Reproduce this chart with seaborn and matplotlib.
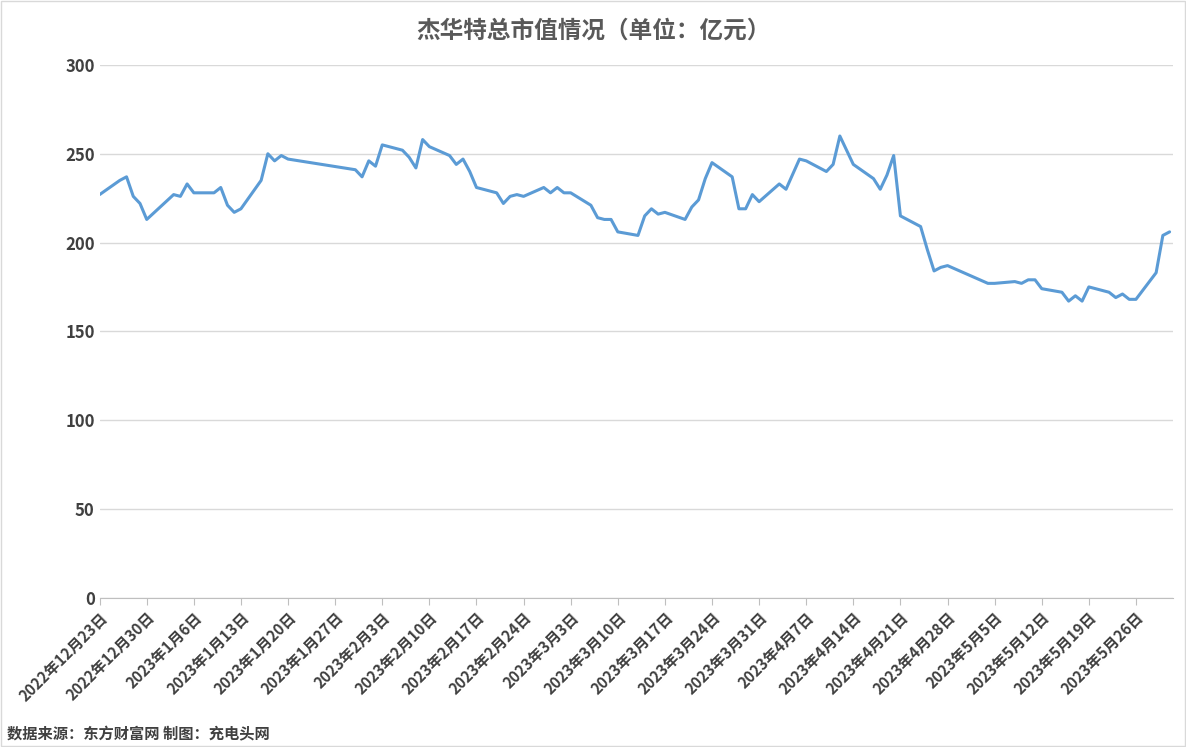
import matplotlib
matplotlib.use("Agg")
import matplotlib.pyplot as plt
import seaborn as sns
import pandas as pd
from matplotlib.patches import Rectangle

dates = ["2022-12-23","2022-12-26","2022-12-27","2022-12-28","2022-12-29","2022-12-30",
"2023-01-03","2023-01-04","2023-01-05","2023-01-06","2023-01-09","2023-01-10","2023-01-11","2023-01-12","2023-01-13",
"2023-01-16","2023-01-17","2023-01-18","2023-01-19","2023-01-20",
"2023-01-30","2023-01-31","2023-02-01","2023-02-02","2023-02-03",
"2023-02-06","2023-02-07","2023-02-08","2023-02-09","2023-02-10",
"2023-02-13","2023-02-14","2023-02-15","2023-02-16","2023-02-17",
"2023-02-20","2023-02-21","2023-02-22","2023-02-23","2023-02-24",
"2023-02-27","2023-02-28","2023-03-01","2023-03-02","2023-03-03",
"2023-03-06","2023-03-07","2023-03-08","2023-03-09","2023-03-10",
"2023-03-13","2023-03-14","2023-03-15","2023-03-16","2023-03-17",
"2023-03-20","2023-03-21","2023-03-22","2023-03-23","2023-03-24",
"2023-03-27","2023-03-28","2023-03-29","2023-03-30","2023-03-31",
"2023-04-03","2023-04-04","2023-04-06","2023-04-07",
"2023-04-10","2023-04-11","2023-04-12","2023-04-13","2023-04-14",
"2023-04-17","2023-04-18","2023-04-19","2023-04-20","2023-04-21",
"2023-04-24","2023-04-25","2023-04-26","2023-04-27","2023-04-28",
"2023-05-04","2023-05-05",
"2023-05-08","2023-05-09","2023-05-10","2023-05-11","2023-05-12",
"2023-05-15","2023-05-16","2023-05-17","2023-05-18","2023-05-19",
"2023-05-22","2023-05-23","2023-05-24","2023-05-25","2023-05-26",
"2023-05-29","2023-05-30","2023-05-31"]
values = [227,235,237,226,222,213,
227,226,233,228,228,231,221,217,219,
235,250,246,249,247,
241,237,246,243,255,
252,248,242,258,254,
249,244,247,240,231,
228,222,226,227,226,
231,228,231,228,228,
221,214,213,213,206,
204,215,219,216,217,
213,220,224,236,245,
237,219,219,227,223,
233,230,247,246,
240,244,260,252,244,
236,230,238,249,215,
209,196,184,186,187,
177,177,
178,177,179,179,174,
172,167,170,167,175,
172,169,171,168,168,
183,204,206]

df = pd.DataFrame({"date": pd.to_datetime(dates), "value": values})

sns.set_style("white")
plt.rcParams['font.family'] = ['Noto Sans CJK SC', 'DejaVu Sans']

fig = plt.figure(figsize=(11.86, 7.47), dpi=100)
ax = fig.add_axes([0.084, 0.2, 0.905, 0.713])
sns.lineplot(data=df, x="date", y="value", ax=ax, color="#5b9bd5", linewidth=2.2)
ax.set_ylim(0, 300)
ax.set_yticks(range(0, 301, 50))
ax.set_xlim(pd.Timestamp("2022-12-23"), pd.Timestamp("2023-05-31 12:00"))
ticks = pd.date_range("2022-12-23", "2023-05-26", freq="7D")
ax.set_xticks(ticks)
ax.set_xticklabels([f"{d.year}年{d.month}月{d.day}日" for d in ticks], rotation=45, ha="right",
                   rotation_mode="anchor", fontsize=11, color="#404040", fontweight="bold")
ax.tick_params(axis="y", labelsize=12, labelcolor="#404040", length=0)
for l in ax.get_yticklabels():
    l.set_fontweight("bold")
ax.tick_params(axis="x", length=5, color="#bfbfbf", direction="out", bottom=True)
ax.grid(axis="y", color="#d9d9d9", linewidth=1)
for s in ["top", "right", "left"]:
    ax.spines[s].set_visible(False)
ax.spines["bottom"].set_color("#bfbfbf")
ax.set_xlabel("")
ax.set_ylabel("")
fig.suptitle("杰华特总市值情况（单位：亿元）", y=0.975, fontsize=17, color="#595959", fontweight="bold")
fig.text(0.006, 0.01, "数据来源：东方财富网 制图：充电头网", fontsize=11, color="#404040", fontweight="bold")
fig.patches.append(Rectangle((0.0005, 0.0008), 0.999, 0.998, transform=fig.transFigure,
                             fill=False, edgecolor="#d9d9d9", linewidth=1))
fig.savefig("out.png", dpi=100)
